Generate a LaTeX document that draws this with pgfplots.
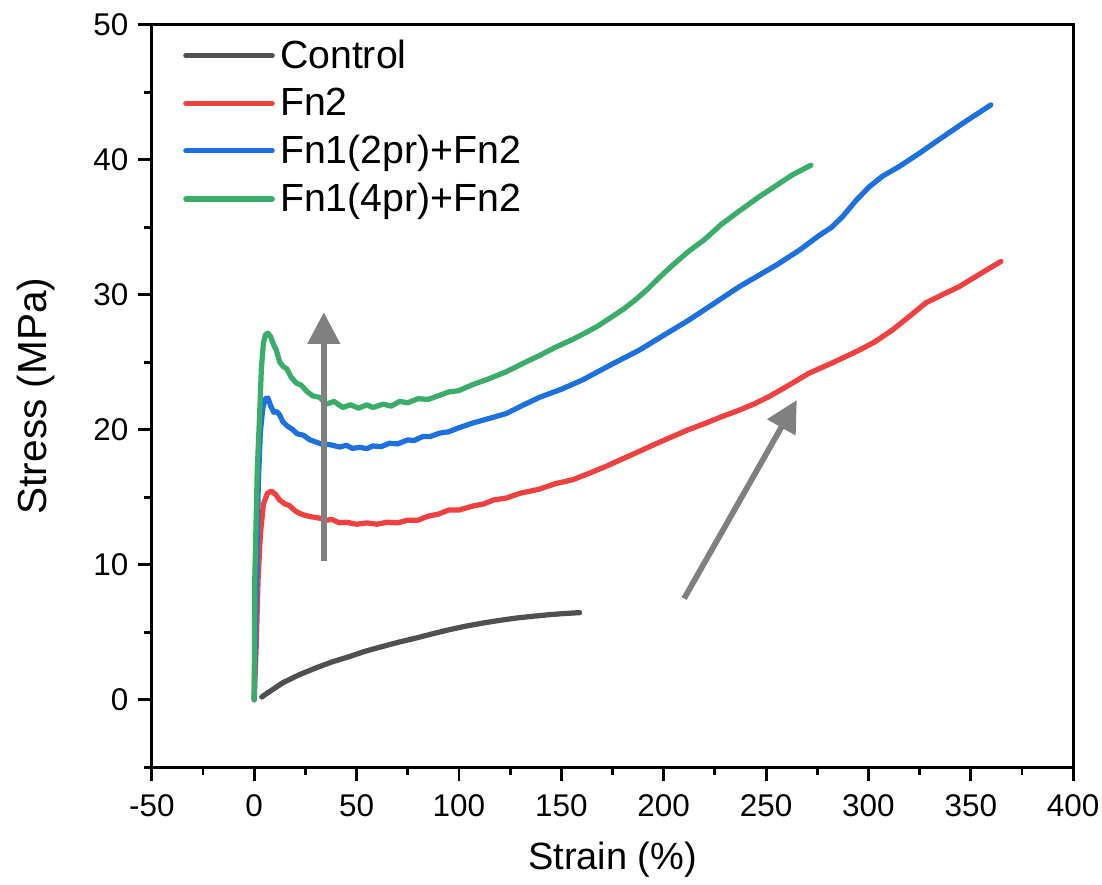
\documentclass[border=0pt]{standalone}
\usepackage{fontspec}
\setmainfont{Liberation Sans}
\usepackage{pgfplots}
\pgfplotsset{compat=1.18}
\usetikzlibrary{arrows.meta}
\definecolor{ctrl}{HTML}{505050}
\definecolor{fnred}{HTML}{F04040}
\definecolor{fnblue}{HTML}{1C70E0}
\definecolor{fngreen}{HTML}{3AAD6A}
\definecolor{arr}{HTML}{808080}
\begin{document}
\begin{tikzpicture}
\begin{axis}[
  width=352pt, height=283.6pt, scale only axis,
  xmin=-50, xmax=400, ymin=-5, ymax=50,
  xtick={-50,0,...,400}, ytick={0,10,...,50},
  minor xtick={-25,25,...,375}, minor ytick={-5,5,...,45},
  tick pos=left, tick align=outside,
  major tick length=5.4pt, minor tick length=2.8pt,
  every tick/.style={black, line width=1.1pt},
  axis line style={line width=1.1pt},
  /pgf/number format/assume math mode=true,
  ticklabel style={font=\fontsize{12}{14}\selectfont},
  xticklabel style={inner sep=1pt, yshift=-4pt},
  xlabel={Strain (\%)}, ylabel={Stress (MPa)},
  xlabel style={font=\fontsize{14.5}{17}\selectfont, at={(rel axis cs:0.5,0)}, anchor=base, inner sep=0pt, yshift=-39pt},
  ylabel style={font=\fontsize{15.5}{18}\selectfont, at={(rel axis cs:0,0.5)}, anchor=south, inner sep=0pt, yshift=37pt},
  legend style={at={(rel axis cs:0.025,0.995)}, anchor=north west, draw=none, fill=none,
    font=\fontsize{15}{17}\selectfont, row sep=2pt},
  legend cell align=left,
  legend image code/.code={\draw[#1] (0pt,0pt) -- (33pt,0pt);},
  every axis plot/.style={line width=2pt, line join=round, line cap=round},
  clip=false,
]
\coordinate (bbnw) at (rel axis cs:0,1);
\coordinate (bbse) at (rel axis cs:1,0);
\addplot[ctrl] coordinates {(3.7,0.2)(6,0.45)(9,0.75)(14,1.26)(22,1.85)(30.4,2.37)(38,2.8)(46.6,3.2)(54,3.58)(62.8,3.95)(71,4.28)(79.1,4.57)(87,4.88)(95.4,5.19)(103,5.44)(111.7,5.68)(120,5.88)(128,6.05)(136,6.18)(144.2,6.3)(151,6.38)(158.9,6.45)};
\addlegendentry{Control}
\addplot[fnred] coordinates {(0,0)(1,4)(1.9,8.9)(3,12.2)(4.5,14.5)(6.5,15.3)(8.4,15.45)(10.5,15.2)(12.4,14.8)(15,14.5)(17,14.4)(20,14.0)(22.2,13.8)(25,13.65)(28,13.55)(32,13.45)(35,13.3)(38,13.35)(41.7,13.1)(45,13.15)(50,13.0)(55,13.1)(60,13.0)(65,13.15)(70,13.1)(75,13.3)(80,13.3)(85,13.6)(90,13.75)(95,14.05)(100,14.05)(106.8,14.35)(112,14.5)(117,14.8)(123.1,14.94)(130,15.3)(139.3,15.6)(147,16.0)(155.6,16.3)(164,16.8)(172,17.3)(180,17.85)(188.1,18.4)(196,18.95)(204.4,19.5)(212,20.0)(220.7,20.5)(228,20.95)(236,21.4)(244,21.9)(251.6,22.47)(260,23.2)(271.1,24.2)(283,25.0)(295.5,25.9)(303,26.5)(311.8,27.4)(320,28.4)(328,29.4)(336,30.0)(344.3,30.6)(354,31.5)(364.7,32.47)};
\addlegendentry{Fn2}
\addplot[fnblue] coordinates {(0,0)(1,8)(2,16)(3,19.8)(4.2,21.6)(5.5,22.3)(6.7,22.35)(8,21.8)(9.5,21.3)(11,21.35)(12.4,21.1)(14,20.6)(16,20.3)(18.9,20.0)(21,19.7)(24,19.6)(27.1,19.26)(30,19.1)(33.6,18.9)(37,18.9)(41.7,18.72)(45,18.85)(48,18.62)(51.5,18.7)(55,18.6)(58,18.8)(62,18.75)(66.1,19.0)(70,18.95)(75,19.25)(78,19.2)(82.4,19.5)(86,19.5)(90.5,19.75)(95,19.85)(100,20.15)(106.8,20.5)(115,20.85)(123.1,21.2)(131,21.8)(139.3,22.4)(150,23.0)(160.5,23.7)(174,24.8)(188.1,25.9)(200,27.0)(212,28.1)(225,29.4)(236.9,30.6)(246,31.4)(255,32.2)(266.2,33.3)(276,34.4)(282,35.0)(287.4,35.8)(294,37.0)(300.4,38.0)(307,38.8)(315,39.5)(325,40.5)(334.5,41.5)(347,42.8)(359.8,44.07)};
\addlegendentry{Fn1(2pr)+Fn2}
\addplot[fngreen] coordinates {(0,0)(0.3,9)(1.5,17)(2.7,21.3)(3.5,24.5)(4.5,26.4)(5.5,27.05)(6.7,27.16)(8,26.9)(9.5,26.3)(10.8,25.9)(12.5,25.0)(14.1,24.7)(16,24.5)(18,23.9)(20.6,23.46)(23,23.3)(26,22.8)(28.7,22.5)(32,22.4)(35.2,21.9)(39,22.1)(43.3,21.65)(47,21.85)(51,21.6)(55,21.85)(58,21.65)(63,21.9)(67,21.75)(71,22.1)(75,22.0)(80,22.3)(85,22.25)(90.5,22.55)(95,22.8)(100,22.9)(106.8,23.35)(115,23.8)(123.1,24.3)(131,24.9)(139.3,25.5)(147,26.1)(155.6,26.7)(162,27.2)(168,27.7)(174,28.3)(180,28.9)(186,29.6)(192,30.4)(198,31.3)(204.4,32.2)(212,33.2)(220,34.1)(228,35.2)(236.9,36.2)(246,37.2)(255,38.1)(263,38.9)(271.9,39.6)};
\addlegendentry{Fn1(4pr)+Fn2}
\draw[arr, line width=2.2pt, -{Triangle[length=12pt,width=12pt]}] (axis cs:34,10.3) -- (axis cs:34,28.7);
\draw[arr, line width=2.2pt, -{Triangle[length=12pt,width=12pt]}] (axis cs:210,7.5) -- (axis cs:265,22.2);
\end{axis}
\path (bbnw) ++(-58pt,9.5pt);
\path (bbse) ++(11pt,-44.7pt);
\end{tikzpicture}
\end{document}
